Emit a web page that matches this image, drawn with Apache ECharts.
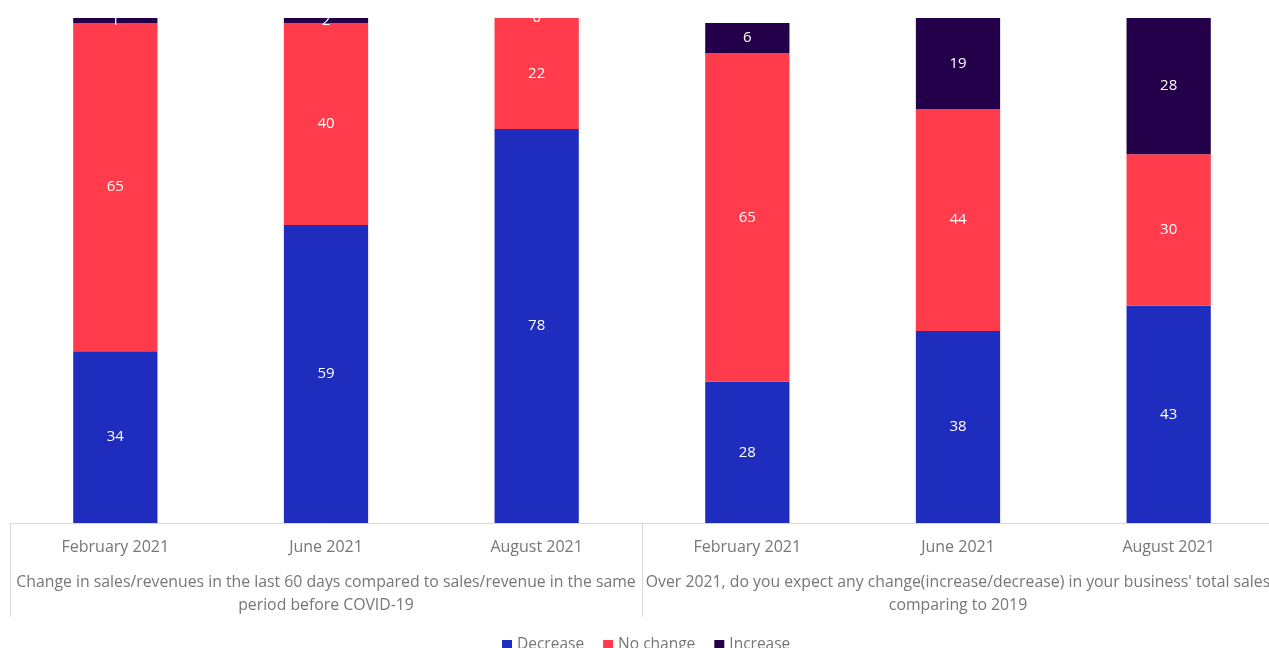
<!DOCTYPE html>
<html>
<head>
<meta charset="utf-8">
<script src="https://cdn.jsdelivr.net/npm/echarts@6/dist/echarts.min.js"></script>
<style>
  html, body { margin: 0; padding: 0; background: #ffffff; overflow: hidden; }
  #chart { width: 1269px; height: 648px; }
</style>
</head>
<body>
<div id="chart"></div>
<script>
// Survey periods (inner axis level)
const periods = ['February 2021', 'June 2021', 'August 2021', 'February 2021', 'June 2021', 'August 2021'];
// Question groups (outer axis level)
const questions = [
  'Change in sales/revenues in the last 60 days compared to sales/revenue in the same\nperiod before COVID-19',
  "Over 2021, do you expect any change(increase/decrease) in your business' total sales\ncomparing to 2019"
];
// Shares of respondents, %
const decrease = [34, 59, 78, 28, 38, 43];
const noChange = [65, 40, 22, 65, 44, 30];
const increase = [1, 2, 0, 6, 19, 28];

const FONT = '"Open Sans", "Noto Sans", sans-serif';
const GREY = '#767676';

const chart = echarts.init(document.getElementById('chart'));

function barSeries(name, values, color) {
  return {
    name: name,
    type: 'bar',
    stack: 'total',
    xAxisIndex: 0,
    barWidth: '40%',
    data: values,
    itemStyle: { color: color },
    label: {
      show: true,
      position: 'inside',
      color: '#ffffff',
      fontFamily: FONT,
      fontSize: 15
    }
  };
}

chart.setOption({
  animation: false,
  grid: {
    left: 10, width: 1264, top: 18, height: 505,
    containLabel: false,
    outerBoundsMode: 'none'
  },
  legend: {
    top: 632,
    left: 497,
    itemWidth: 10,
    itemHeight: 10,
    itemGap: 19,
    icon: 'rect',
    textStyle: { color: GREY, fontFamily: FONT, fontSize: 15.5 },
    data: ['Decrease', 'No change', 'Increase']
  },
  xAxis: [
    {
      type: 'category',
      data: periods,
      position: 'bottom',
      axisLine: { show: true, lineStyle: { color: '#d9d9d9', width: 1 } },
      axisTick: { show: false },
      axisLabel: { color: GREY, fontFamily: FONT, fontSize: 16, margin: 16, interval: 0 }
    },
    {
      type: 'category',
      data: questions,
      position: 'bottom',
      axisLine: { show: false },
      axisTick: {
        show: true,
        interval: 0,
        length: 94,
        lineStyle: { color: '#d9d9d9', width: 1 }
      },
      axisLabel: {
        color: GREY,
        fontFamily: FONT,
        fontSize: 15.8,
        lineHeight: 23,
        margin: 48,
        interval: 0,
        align: 'center'
      }
    }
  ],
  yAxis: {
    type: 'value',
    min: 0,
    max: 100,
    show: false,
    splitLine: { show: false }
  },
  series: [
    barSeries('Decrease', decrease, '#1f2dbf'),
    barSeries('No change', noChange, '#ff3b4c'),
    barSeries('Increase', increase, '#24004a')
  ]
});
</script>
</body>
</html>
